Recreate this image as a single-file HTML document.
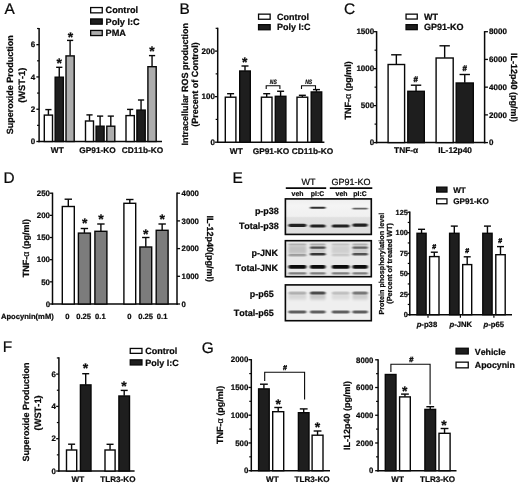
<!DOCTYPE html>
<html><head><meta charset="utf-8"><title>Figure</title>
<style>
html,body{margin:0;padding:0;background:#fff;}
body{width:520px;height:484px;overflow:hidden;}
svg{display:block;filter:blur(0.4px);font-family:"Liberation Sans",sans-serif;font-weight:bold;text-anchor:middle;fill:#080808;stroke:none;text-rendering:geometricPrecision;font-kerning:none;}
svg line, svg polyline, svg rect{stroke:#080808;}
svg .n{stroke:none;}
svg text{stroke:#0a0a0a;stroke-width:0.22px;fill:#0a0a0a;}
</style></head><body>
<svg width="520" height="484" viewBox="0 0 520 484">
<rect x="0" y="0" width="520" height="484" fill="#fff" style="stroke:none"/>
<text x="4.4" y="13.8" font-size="15.4" font-weight="normal" text-anchor="start">A</text>
<line x1="39.1" y1="27.92" x2="39.1" y2="142.25" stroke-width="1.5"/>
<line x1="39.1" y1="125.36" x2="37.05" y2="125.36" stroke-width="1.2"/>
<line x1="39.1" y1="93.08" x2="37.05" y2="93.08" stroke-width="1.2"/>
<line x1="39.1" y1="60.8" x2="37.05" y2="60.8" stroke-width="1.2"/>
<line x1="39.1" y1="28.52" x2="37.05" y2="28.52" stroke-width="1.2"/>
<line x1="39.1" y1="141.5" x2="36.35" y2="141.5" stroke-width="1.3"/>
<text x="35.12" y="144.28" font-size="8" text-anchor="end">0</text>
<line x1="39.1" y1="109.22" x2="36.35" y2="109.22" stroke-width="1.3"/>
<text x="35.12" y="112" font-size="8" text-anchor="end">2</text>
<line x1="39.1" y1="76.94" x2="36.35" y2="76.94" stroke-width="1.3"/>
<text x="35.12" y="79.72" font-size="8" text-anchor="end">4</text>
<line x1="39.1" y1="44.66" x2="36.35" y2="44.66" stroke-width="1.3"/>
<text x="35.12" y="47.44" font-size="8" text-anchor="end">6</text>
<line x1="38.35" y1="141.5" x2="162" y2="141.5" stroke-width="1.5"/>
<text x="13" y="84.8" font-size="9" transform="rotate(-90 13 84.8)">Superoxide Production</text>
<text x="24.6" y="85.3" font-size="9.3" transform="rotate(-90 24.6 85.3)">(WST-1)</text>
<line x1="48.4" y1="114.9" x2="48.4" y2="109.6" stroke-width="1.4"/>
<line x1="45.3" y1="109.6" x2="51.5" y2="109.6" stroke-width="1.4"/>
<rect x="44.3" y="115.1" width="8.2" height="26.4" fill="#ffffff" stroke-width="1.4"/>
<line x1="59.25" y1="77" x2="59.25" y2="67.3" stroke-width="1.4"/>
<line x1="56.15" y1="67.3" x2="62.35" y2="67.3" stroke-width="1.4"/>
<rect x="55.15" y="77.2" width="8.2" height="64.3" fill="#1e1e1e" stroke-width="1.4"/>
<line x1="70.1" y1="55.7" x2="70.1" y2="40.4" stroke-width="1.4"/>
<line x1="67" y1="40.4" x2="73.2" y2="40.4" stroke-width="1.4"/>
<rect x="66" y="55.9" width="8.2" height="85.6" fill="#adadad" stroke-width="1.4"/>
<line x1="89.5" y1="120.8" x2="89.5" y2="114.9" stroke-width="1.4"/>
<line x1="86.4" y1="114.9" x2="92.6" y2="114.9" stroke-width="1.4"/>
<rect x="85.5" y="121" width="8" height="20.5" fill="#ffffff" stroke-width="1.4"/>
<line x1="100.1" y1="126" x2="100.1" y2="116.1" stroke-width="1.4"/>
<line x1="97" y1="116.1" x2="103.2" y2="116.1" stroke-width="1.4"/>
<rect x="96.1" y="126.2" width="8" height="15.3" fill="#1e1e1e" stroke-width="1.4"/>
<line x1="110.8" y1="126" x2="110.8" y2="116.1" stroke-width="1.4"/>
<line x1="107.7" y1="116.1" x2="113.9" y2="116.1" stroke-width="1.4"/>
<rect x="106.8" y="126.2" width="8" height="15.3" fill="#adadad" stroke-width="1.4"/>
<line x1="130.15" y1="115.4" x2="130.15" y2="109.4" stroke-width="1.4"/>
<line x1="127.05" y1="109.4" x2="133.25" y2="109.4" stroke-width="1.4"/>
<rect x="126" y="115.6" width="8.3" height="25.9" fill="#ffffff" stroke-width="1.4"/>
<line x1="141.05" y1="109.9" x2="141.05" y2="100" stroke-width="1.4"/>
<line x1="137.95" y1="100" x2="144.15" y2="100" stroke-width="1.4"/>
<rect x="136.9" y="110.1" width="8.3" height="31.4" fill="#1e1e1e" stroke-width="1.4"/>
<line x1="152.05" y1="66.5" x2="152.05" y2="55.6" stroke-width="1.4"/>
<line x1="148.95" y1="55.6" x2="155.15" y2="55.6" stroke-width="1.4"/>
<rect x="147.9" y="66.7" width="8.3" height="74.8" fill="#adadad" stroke-width="1.4"/>
<text x="59.3" y="68.27" font-size="14">*</text>
<text x="70.4" y="42.17" font-size="14">*</text>
<text x="151.9" y="56.47" font-size="14">*</text>
<text x="57.3" y="153.1" font-size="8.3">WT</text>
<text x="97.5" y="153.1" font-size="8.3">GP91-KO</text>
<text x="142.5" y="153.1" font-size="8.3">CD11b-KO</text>
<rect x="90.65" y="7.55" width="11.6" height="5.3" fill="#ffffff" stroke-width="1.3"/>
<text x="105.5" y="13.4" font-size="9.2" text-anchor="start">Control</text>
<rect x="90.65" y="18.95" width="11.6" height="5.2" fill="#1e1e1e" stroke-width="1.3"/>
<text x="105.5" y="24.7" font-size="9.2" text-anchor="start">Poly I:C</text>
<rect x="90.65" y="30.45" width="11.6" height="5.1" fill="#adadad" stroke-width="1.3"/>
<text x="105.5" y="36.1" font-size="9.2" text-anchor="start">PMA</text>
<text x="179.5" y="13.8" font-size="15.4" font-weight="normal" text-anchor="start">B</text>
<line x1="217.7" y1="27.72" x2="217.7" y2="142.95" stroke-width="1.5"/>
<line x1="217.7" y1="119.42" x2="215.65" y2="119.42" stroke-width="1.2"/>
<line x1="217.7" y1="73.87" x2="215.65" y2="73.87" stroke-width="1.2"/>
<line x1="217.7" y1="28.32" x2="215.65" y2="28.32" stroke-width="1.2"/>
<line x1="217.7" y1="142.2" x2="214.95" y2="142.2" stroke-width="1.3"/>
<text x="214.92" y="144.98" font-size="8" text-anchor="end">0</text>
<line x1="217.7" y1="96.65" x2="214.95" y2="96.65" stroke-width="1.3"/>
<text x="214.92" y="99.43" font-size="8" text-anchor="end">100</text>
<line x1="217.7" y1="51.1" x2="214.95" y2="51.1" stroke-width="1.3"/>
<text x="214.92" y="53.88" font-size="8" text-anchor="end">200</text>
<line x1="216.95" y1="142.2" x2="324.4" y2="142.2" stroke-width="1.5"/>
<text x="187.9" y="84.2" font-size="9" transform="rotate(-90 187.9 84.2)">Intracellular ROS production</text>
<text x="198.4" y="84.5" font-size="9" transform="rotate(-90 198.4 84.5)">(Precent of Control)</text>
<line x1="230.6" y1="97" x2="230.6" y2="93.7" stroke-width="1.4"/>
<line x1="227.1" y1="93.7" x2="234.1" y2="93.7" stroke-width="1.4"/>
<rect x="225.3" y="97.2" width="10.6" height="45" fill="#ffffff" stroke-width="1.4"/>
<line x1="245" y1="70.8" x2="245" y2="66" stroke-width="1.4"/>
<line x1="241.5" y1="66" x2="248.5" y2="66" stroke-width="1.4"/>
<rect x="239.7" y="71" width="10.6" height="71.2" fill="#1e1e1e" stroke-width="1.4"/>
<line x1="266.7" y1="97" x2="266.7" y2="93.7" stroke-width="1.4"/>
<line x1="263.2" y1="93.7" x2="270.2" y2="93.7" stroke-width="1.4"/>
<rect x="261.4" y="97.2" width="10.6" height="45" fill="#ffffff" stroke-width="1.4"/>
<line x1="280.6" y1="96.1" x2="280.6" y2="91.25" stroke-width="1.4"/>
<line x1="277.1" y1="91.25" x2="284.1" y2="91.25" stroke-width="1.4"/>
<rect x="275.3" y="96.3" width="10.6" height="45.9" fill="#1e1e1e" stroke-width="1.4"/>
<line x1="302.35" y1="97" x2="302.35" y2="95.3" stroke-width="1.4"/>
<line x1="298.85" y1="95.3" x2="305.85" y2="95.3" stroke-width="1.4"/>
<rect x="297" y="97.2" width="10.7" height="45" fill="#ffffff" stroke-width="1.4"/>
<line x1="316.45" y1="91.75" x2="316.45" y2="89.6" stroke-width="1.4"/>
<line x1="312.95" y1="89.6" x2="319.95" y2="89.6" stroke-width="1.4"/>
<rect x="311.2" y="91.95" width="10.5" height="50.25" fill="#1e1e1e" stroke-width="1.4"/>
<text x="244.8" y="66.87" font-size="14">*</text>
<polyline points="266.2,89 266.2,85.8 279.9,85.8 279.9,89" fill="none" stroke-width="1.1"/>
<text transform="translate(273.25 83.5) scale(0.8 1)" font-size="6.3" font-style="italic">NS</text>
<polyline points="301.5,89 301.5,85.8 315.5,85.8 315.5,89" fill="none" stroke-width="1.1"/>
<text transform="translate(308.7 83.5) scale(0.8 1)" font-size="6.3" font-style="italic">NS</text>
<text x="236.3" y="153.7" font-size="8.3">WT</text>
<text x="270.9" y="153.7" font-size="8.3">GP91-KO</text>
<text x="312.5" y="153.5" font-size="8.3">CD11b-KO</text>
<rect x="258.55" y="14.15" width="11.6" height="5.1" fill="#ffffff" stroke-width="1.3"/>
<text x="277.1" y="19.8" font-size="9" text-anchor="start">Control</text>
<rect x="258.55" y="24.65" width="11.6" height="5.1" fill="#1e1e1e" stroke-width="1.3"/>
<text x="277.1" y="30.3" font-size="9" text-anchor="start">Poly I:C</text>
<text x="344" y="13.9" font-size="15.4" font-weight="normal" text-anchor="start">C</text>
<line x1="376.6" y1="31.1" x2="376.6" y2="143.35" stroke-width="1.5"/>
<line x1="376.6" y1="124.12" x2="374.55" y2="124.12" stroke-width="1.2"/>
<line x1="376.6" y1="87.15" x2="374.55" y2="87.15" stroke-width="1.2"/>
<line x1="376.6" y1="50.18" x2="374.55" y2="50.18" stroke-width="1.2"/>
<line x1="376.6" y1="142.6" x2="373.85" y2="142.6" stroke-width="1.3"/>
<text x="374.22" y="145.38" font-size="8" text-anchor="end">0</text>
<line x1="376.6" y1="105.63" x2="373.85" y2="105.63" stroke-width="1.3"/>
<text x="374.22" y="108.41" font-size="8" text-anchor="end">500</text>
<line x1="376.6" y1="68.67" x2="373.85" y2="68.67" stroke-width="1.3"/>
<text x="374.22" y="71.44" font-size="8" text-anchor="end">1000</text>
<line x1="376.6" y1="31.7" x2="373.85" y2="31.7" stroke-width="1.3"/>
<text x="374.22" y="34.48" font-size="8" text-anchor="end">1500</text>
<line x1="484.6" y1="31.1" x2="484.6" y2="143.35" stroke-width="1.5"/>
<line x1="484.6" y1="142.6" x2="487.95" y2="142.6" stroke-width="1.3"/>
<text x="489.08" y="145.38" font-size="8" text-anchor="start">0</text>
<line x1="484.6" y1="114.88" x2="487.95" y2="114.88" stroke-width="1.3"/>
<text x="489.08" y="117.65" font-size="8" text-anchor="start">2000</text>
<line x1="484.6" y1="87.15" x2="487.95" y2="87.15" stroke-width="1.3"/>
<text x="489.08" y="89.93" font-size="8" text-anchor="start">4000</text>
<line x1="484.6" y1="59.42" x2="487.95" y2="59.42" stroke-width="1.3"/>
<text x="489.08" y="62.2" font-size="8" text-anchor="start">6000</text>
<line x1="484.6" y1="31.7" x2="487.95" y2="31.7" stroke-width="1.3"/>
<text x="489.08" y="34.48" font-size="8" text-anchor="start">8000</text>
<line x1="375.85" y1="142.6" x2="485.35" y2="142.6" stroke-width="1.5"/>
<text x="350.6" y="90.4" font-size="9" transform="rotate(-90 350.6 90.4)">TNF-<tspan font-weight="normal">α</tspan> (pg/ml)</text>
<text x="510.7" y="87.5" font-size="9" transform="rotate(90 510.7 87.5)">IL-12p40 (pg/ml)</text>
<line x1="396.35" y1="64.3" x2="396.35" y2="54.8" stroke-width="1.4"/>
<line x1="391.15" y1="54.8" x2="401.55" y2="54.8" stroke-width="1.4"/>
<rect x="388.1" y="64.5" width="16.5" height="78.1" fill="#ffffff" stroke-width="1.4"/>
<line x1="416.05" y1="91.1" x2="416.05" y2="85.2" stroke-width="1.4"/>
<line x1="410.85" y1="85.2" x2="421.25" y2="85.2" stroke-width="1.4"/>
<rect x="407.8" y="91.3" width="16.5" height="51.3" fill="#1e1e1e" stroke-width="1.4"/>
<line x1="444.65" y1="57.8" x2="444.65" y2="45.8" stroke-width="1.4"/>
<line x1="439.45" y1="45.8" x2="449.85" y2="45.8" stroke-width="1.4"/>
<rect x="436.1" y="58" width="17.1" height="84.6" fill="#ffffff" stroke-width="1.4"/>
<line x1="464.75" y1="82.8" x2="464.75" y2="74.5" stroke-width="1.4"/>
<line x1="459.55" y1="74.5" x2="469.95" y2="74.5" stroke-width="1.4"/>
<rect x="456.2" y="83" width="17.1" height="59.6" fill="#1e1e1e" stroke-width="1.4"/>
<text x="415.8" y="82.32" font-size="8" style="stroke-width:0.4px">#</text>
<text x="464.7" y="70.72" font-size="8" style="stroke-width:0.4px">#</text>
<text x="406.1" y="153" font-size="8.3">TNF-α</text>
<text x="455.1" y="153" font-size="8.3">IL-12p40</text>
<rect x="406.05" y="14.15" width="11.2" height="4.9" fill="#ffffff" stroke-width="1.3"/>
<text x="424" y="19.6" font-size="9" text-anchor="start">WT</text>
<rect x="406.05" y="24.65" width="11.2" height="5" fill="#1e1e1e" stroke-width="1.3"/>
<text x="424" y="30.2" font-size="9" text-anchor="start">GP91-KO</text>
<text x="3.6" y="182.8" font-size="15.4" font-weight="normal" text-anchor="start">D</text>
<line x1="52.5" y1="192.6" x2="52.5" y2="304.75" stroke-width="1.5"/>
<line x1="52.5" y1="304" x2="49.75" y2="304" stroke-width="1.3"/>
<text x="50.02" y="306.74" font-size="7.9" text-anchor="end">0</text>
<line x1="52.5" y1="281.84" x2="49.75" y2="281.84" stroke-width="1.3"/>
<text x="50.02" y="284.58" font-size="7.9" text-anchor="end">50</text>
<line x1="52.5" y1="259.68" x2="49.75" y2="259.68" stroke-width="1.3"/>
<text x="50.02" y="262.42" font-size="7.9" text-anchor="end">100</text>
<line x1="52.5" y1="237.52" x2="49.75" y2="237.52" stroke-width="1.3"/>
<text x="50.02" y="240.26" font-size="7.9" text-anchor="end">150</text>
<line x1="52.5" y1="215.36" x2="49.75" y2="215.36" stroke-width="1.3"/>
<text x="50.02" y="218.1" font-size="7.9" text-anchor="end">200</text>
<line x1="52.5" y1="193.2" x2="49.75" y2="193.2" stroke-width="1.3"/>
<text x="50.02" y="195.94" font-size="7.9" text-anchor="end">250</text>
<line x1="177" y1="192.6" x2="177" y2="304.75" stroke-width="1.5"/>
<line x1="177" y1="304" x2="180.05" y2="304" stroke-width="1.3"/>
<text x="181.59" y="306.71" font-size="7.8" text-anchor="start">0</text>
<line x1="177" y1="276.3" x2="180.05" y2="276.3" stroke-width="1.3"/>
<text x="181.59" y="279.01" font-size="7.8" text-anchor="start">1000</text>
<line x1="177" y1="248.6" x2="180.05" y2="248.6" stroke-width="1.3"/>
<text x="181.59" y="251.31" font-size="7.8" text-anchor="start">2000</text>
<line x1="177" y1="220.9" x2="180.05" y2="220.9" stroke-width="1.3"/>
<text x="181.59" y="223.61" font-size="7.8" text-anchor="start">3000</text>
<line x1="177" y1="193.2" x2="180.05" y2="193.2" stroke-width="1.3"/>
<text x="181.59" y="195.91" font-size="7.8" text-anchor="start">4000</text>
<line x1="51.75" y1="304" x2="177.75" y2="304" stroke-width="1.5"/>
<text x="29" y="248.2" font-size="9" transform="rotate(-90 29 248.2)">TNF-<tspan font-weight="normal">α</tspan> (pg/ml)</text>
<text x="207.4" y="248.8" font-size="9" transform="rotate(90 207.4 248.8)">IL-12p40(pg/ml)</text>
<line x1="68.3" y1="206.3" x2="68.3" y2="199.2" stroke-width="1.4"/>
<line x1="64.6" y1="199.2" x2="72" y2="199.2" stroke-width="1.4"/>
<rect x="62.3" y="206.5" width="12" height="97.5" fill="#ffffff" stroke-width="1.4"/>
<line x1="84.4" y1="232.9" x2="84.4" y2="228.5" stroke-width="1.4"/>
<line x1="80.7" y1="228.5" x2="88.1" y2="228.5" stroke-width="1.4"/>
<rect x="78.4" y="233.1" width="12" height="70.9" fill="#7c7c7c" stroke-width="1.4"/>
<line x1="100.9" y1="231.1" x2="100.9" y2="224" stroke-width="1.4"/>
<line x1="97.2" y1="224" x2="104.6" y2="224" stroke-width="1.4"/>
<rect x="94.9" y="231.3" width="12" height="72.7" fill="#7c7c7c" stroke-width="1.4"/>
<line x1="129.8" y1="203.1" x2="129.8" y2="199.5" stroke-width="1.4"/>
<line x1="126.1" y1="199.5" x2="133.5" y2="199.5" stroke-width="1.4"/>
<rect x="123.9" y="203.3" width="11.8" height="100.7" fill="#ffffff" stroke-width="1.4"/>
<line x1="145.8" y1="246.8" x2="145.8" y2="237.5" stroke-width="1.4"/>
<line x1="142.1" y1="237.5" x2="149.5" y2="237.5" stroke-width="1.4"/>
<rect x="139.9" y="247" width="11.8" height="57" fill="#7c7c7c" stroke-width="1.4"/>
<line x1="162.15" y1="230.1" x2="162.15" y2="224" stroke-width="1.4"/>
<line x1="158.45" y1="224" x2="165.85" y2="224" stroke-width="1.4"/>
<rect x="156.2" y="230.3" width="11.9" height="73.7" fill="#7c7c7c" stroke-width="1.4"/>
<text x="84.8" y="228.37" font-size="14">*</text>
<text x="100.9" y="223.77" font-size="14">*</text>
<text x="145.8" y="238.77" font-size="14">*</text>
<text x="162.3" y="224.27" font-size="14">*</text>
<text x="1" y="319.3" font-size="7.6" text-anchor="start">Apocynin(mM)</text>
<text x="67.3" y="319.3" font-size="7.6">0</text>
<text x="83.6" y="319.3" font-size="7.6">0.25</text>
<text x="100.4" y="319.3" font-size="7.6">0.1</text>
<text x="129.3" y="319.3" font-size="7.6">0</text>
<text x="145.6" y="319.3" font-size="7.6">0.25</text>
<text x="162.1" y="319.3" font-size="7.6">0.1</text>
<text x="232.4" y="183.2" font-size="15.4" font-weight="normal" text-anchor="start">E</text>
<text x="308.5" y="185.2" font-size="9" font-weight="normal">WT</text>
<text x="351" y="185.2" font-size="9" font-weight="normal">GP91-KO</text>
<line x1="285.8" y1="188.1" x2="326.2" y2="188.1" stroke-width="1.8"/>
<line x1="329.8" y1="188.1" x2="372.3" y2="188.1" stroke-width="1.8"/>
<text x="297.5" y="196" font-size="6.9">veh</text>
<text x="317.5" y="196" font-size="6.9">pI:C</text>
<text x="341.5" y="196" font-size="6.9">veh</text>
<text x="360" y="196" font-size="6.9">pI:C</text>
<text x="278.9" y="213.7" font-size="9" text-anchor="end">p-p38</text>
<text x="278.9" y="229.4" font-size="9" text-anchor="end">Total-p38</text>
<text x="278.1" y="255.5" font-size="9" text-anchor="end">p-JNK</text>
<text x="278.1" y="270.7" font-size="9" text-anchor="end">Total-JNK</text>
<text x="273.7" y="297.1" font-size="9" text-anchor="end">p-p65</text>
<text x="273.7" y="315.6" font-size="9" text-anchor="end">Total-p65</text>
<defs><filter id="b1" x="-20%" y="-150%" width="140%" height="400%"><feGaussianBlur stdDeviation="1.1 0.7"/></filter><filter id="b2" x="-20%" y="-150%" width="140%" height="400%"><feGaussianBlur stdDeviation="1.2 1.4"/></filter><linearGradient id="g1" x1="0" y1="0" x2="0" y2="1"><stop offset="0" stop-color="#ededed"/><stop offset="0.2" stop-color="#f4f4f4"/><stop offset="0.49" stop-color="#f0f0f0"/><stop offset="0.53" stop-color="#e0e0e0"/><stop offset="1" stop-color="#dedede"/></linearGradient></defs>
<rect x="284.6" y="198.1" width="87.5" height="37.1" fill="url(#g1)" class="n"/>
<rect x="310" y="206.8" width="15.6" height="2" rx="1" fill="#000" opacity="0.8" class="n" filter="url(#b1)"/>
<rect x="352.4" y="207.7" width="15.4" height="1.8" rx="0.9" fill="#000" opacity="0.58" class="n" filter="url(#b1)"/>
<rect x="288.4" y="223.7" width="18" height="3.2" rx="1.6" fill="#000" opacity="0.85" class="n" filter="url(#b1)"/>
<rect x="310" y="224.4" width="15.6" height="3.2" rx="1.6" fill="#000" opacity="0.85" class="n" filter="url(#b1)"/>
<rect x="331.8" y="224.4" width="17.8" height="3.2" rx="1.6" fill="#000" opacity="0.85" class="n" filter="url(#b1)"/>
<rect x="352.4" y="223.5" width="15.4" height="3.2" rx="1.6" fill="#000" opacity="0.85" class="n" filter="url(#b1)"/>
<rect x="285.4" y="198.9" width="85.9" height="35.5" fill="none" stroke-width="1.6"/>
<rect x="284.6" y="239.9" width="87.5" height="37.6" fill="#e8e8e8" class="n"/>
<rect x="288.4" y="245" width="18" height="9" rx="1.6" fill="#000" opacity="0.16" class="n" filter="url(#b2)"/>
<rect x="310" y="245" width="15.6" height="9" rx="1.6" fill="#000" opacity="0.12" class="n" filter="url(#b2)"/>
<rect x="331.8" y="245" width="17.8" height="9" rx="1.6" fill="#000" opacity="0.1" class="n" filter="url(#b2)"/>
<rect x="352.4" y="245" width="15.4" height="9" rx="1.6" fill="#000" opacity="0.12" class="n" filter="url(#b2)"/>
<rect x="288.4" y="243.5" width="18" height="1.8" rx="0.9" fill="#000" opacity="0.18" class="n" filter="url(#b1)"/>
<rect x="310" y="243.5" width="15.6" height="1.8" rx="0.9" fill="#000" opacity="0.22" class="n" filter="url(#b1)"/>
<rect x="331.8" y="243.5" width="17.8" height="1.8" rx="0.9" fill="#000" opacity="0.12" class="n" filter="url(#b1)"/>
<rect x="352.4" y="243.5" width="15.4" height="1.8" rx="0.9" fill="#000" opacity="0.2" class="n" filter="url(#b1)"/>
<rect x="310" y="246.6" width="15.6" height="2.2" rx="1.1" fill="#000" opacity="0.62" class="n" filter="url(#b1)"/>
<rect x="352.4" y="246.6" width="15.4" height="2.2" rx="1.1" fill="#000" opacity="0.5" class="n" filter="url(#b1)"/>
<rect x="288.4" y="253.9" width="18" height="2.6" rx="1.3" fill="#000" opacity="0.28" class="n" filter="url(#b1)"/>
<rect x="310" y="252.9" width="15.6" height="2.6" rx="1.3" fill="#000" opacity="0.75" class="n" filter="url(#b1)"/>
<rect x="331.8" y="253.9" width="17.8" height="2.6" rx="1.3" fill="#000" opacity="0.1" class="n" filter="url(#b1)"/>
<rect x="352.4" y="252.9" width="15.4" height="2.6" rx="1.3" fill="#000" opacity="0.62" class="n" filter="url(#b1)"/>
<rect x="288.4" y="264.9" width="18" height="3.8" rx="1.6" fill="#000" opacity="0.95" class="n" filter="url(#b1)"/>
<rect x="288.4" y="272.3" width="18" height="2.2" rx="1.1" fill="#000" opacity="0.45" class="n" filter="url(#b1)"/>
<rect x="310" y="264.9" width="15.6" height="3.8" rx="1.6" fill="#000" opacity="0.95" class="n" filter="url(#b1)"/>
<rect x="310" y="272.3" width="15.6" height="2.2" rx="1.1" fill="#000" opacity="0.45" class="n" filter="url(#b1)"/>
<rect x="331.8" y="264.9" width="17.8" height="3.8" rx="1.6" fill="#000" opacity="0.95" class="n" filter="url(#b1)"/>
<rect x="331.8" y="272.3" width="17.8" height="2.2" rx="1.1" fill="#000" opacity="0.45" class="n" filter="url(#b1)"/>
<rect x="352.4" y="264.9" width="15.4" height="3.8" rx="1.6" fill="#000" opacity="0.95" class="n" filter="url(#b1)"/>
<rect x="352.4" y="272.3" width="15.4" height="2.2" rx="1.1" fill="#000" opacity="0.45" class="n" filter="url(#b1)"/>
<rect x="285.4" y="240.7" width="85.9" height="36" fill="none" stroke-width="1.6"/>
<rect x="284.6" y="284.1" width="87.5" height="37.4" fill="#efefef" class="n"/>
<rect x="288.4" y="293.5" width="18" height="6" rx="1.6" fill="#000" opacity="0.1" class="n" filter="url(#b2)"/>
<rect x="310" y="293.5" width="15.6" height="6" rx="1.6" fill="#000" opacity="0.16" class="n" filter="url(#b2)"/>
<rect x="331.8" y="293.5" width="17.8" height="6" rx="1.6" fill="#000" opacity="0.08" class="n" filter="url(#b2)"/>
<rect x="352.4" y="293.5" width="15.4" height="6" rx="1.6" fill="#000" opacity="0.14" class="n" filter="url(#b2)"/>
<rect x="288.4" y="291.5" width="18" height="3" rx="1.5" fill="#000" opacity="0.22" class="n" filter="url(#b1)"/>
<rect x="310" y="291.5" width="15.6" height="3" rx="1.5" fill="#000" opacity="0.66" class="n" filter="url(#b1)"/>
<rect x="331.8" y="291.5" width="17.8" height="3" rx="1.5" fill="#000" opacity="0.16" class="n" filter="url(#b1)"/>
<rect x="352.4" y="291.5" width="15.4" height="3" rx="1.5" fill="#000" opacity="0.46" class="n" filter="url(#b1)"/>
<rect x="288.4" y="310.6" width="18" height="2.8" rx="1.4" fill="#000" opacity="0.6" class="n" filter="url(#b1)"/>
<rect x="310" y="310.6" width="15.6" height="2.8" rx="1.4" fill="#000" opacity="0.6" class="n" filter="url(#b1)"/>
<rect x="331.8" y="310.6" width="17.8" height="2.8" rx="1.4" fill="#000" opacity="0.6" class="n" filter="url(#b1)"/>
<rect x="352.4" y="310.6" width="15.4" height="2.8" rx="1.4" fill="#000" opacity="0.6" class="n" filter="url(#b1)"/>
<rect x="285.4" y="284.9" width="85.9" height="35.8" fill="none" stroke-width="1.6"/>
<line x1="409.8" y1="211.6" x2="409.8" y2="315.45" stroke-width="1.5"/>
<line x1="409.8" y1="304.45" x2="407.75" y2="304.45" stroke-width="1.2"/>
<line x1="409.8" y1="283.95" x2="407.75" y2="283.95" stroke-width="1.2"/>
<line x1="409.8" y1="263.45" x2="407.75" y2="263.45" stroke-width="1.2"/>
<line x1="409.8" y1="242.95" x2="407.75" y2="242.95" stroke-width="1.2"/>
<line x1="409.8" y1="222.45" x2="407.75" y2="222.45" stroke-width="1.2"/>
<line x1="409.8" y1="314.7" x2="407.25" y2="314.7" stroke-width="1.3"/>
<text x="407.79" y="317.23" font-size="7.3" text-anchor="end">0</text>
<line x1="409.8" y1="294.2" x2="407.25" y2="294.2" stroke-width="1.3"/>
<text x="407.79" y="296.73" font-size="7.3" text-anchor="end">25</text>
<line x1="409.8" y1="273.7" x2="407.25" y2="273.7" stroke-width="1.3"/>
<text x="407.79" y="276.23" font-size="7.3" text-anchor="end">50</text>
<line x1="409.8" y1="253.2" x2="407.25" y2="253.2" stroke-width="1.3"/>
<text x="407.79" y="255.73" font-size="7.3" text-anchor="end">75</text>
<line x1="409.8" y1="232.7" x2="407.25" y2="232.7" stroke-width="1.3"/>
<text x="407.79" y="235.23" font-size="7.3" text-anchor="end">100</text>
<line x1="409.8" y1="212.2" x2="407.25" y2="212.2" stroke-width="1.3"/>
<text x="407.79" y="214.73" font-size="7.3" text-anchor="end">125</text>
<line x1="409.05" y1="314.7" x2="512" y2="314.7" stroke-width="1.5"/>
<line x1="428" y1="314.7" x2="428" y2="317.7" stroke-width="1.2"/>
<line x1="460.4" y1="314.7" x2="460.4" y2="317.7" stroke-width="1.2"/>
<line x1="493.9" y1="314.7" x2="493.9" y2="317.7" stroke-width="1.2"/>
<text x="384" y="263.6" font-size="7.25" transform="rotate(-90 384 263.6)">Protein phosphorylation level</text>
<text x="391.6" y="263.4" font-size="7.35" transform="rotate(-90 391.6 263.4)">(Percent of treated WT)</text>
<line x1="421.55" y1="233.1" x2="421.55" y2="229.3" stroke-width="1.4"/>
<line x1="418.05" y1="229.3" x2="425.05" y2="229.3" stroke-width="1.4"/>
<rect x="417" y="233.3" width="9.1" height="81.4" fill="#1e1e1e" stroke-width="1.4"/>
<line x1="434.3" y1="256.4" x2="434.3" y2="252.2" stroke-width="1.4"/>
<line x1="430.8" y1="252.2" x2="437.8" y2="252.2" stroke-width="1.4"/>
<rect x="429.6" y="256.6" width="9.4" height="58.1" fill="#ffffff" stroke-width="1.4"/>
<line x1="454.3" y1="233.1" x2="454.3" y2="226.1" stroke-width="1.4"/>
<line x1="450.8" y1="226.1" x2="457.8" y2="226.1" stroke-width="1.4"/>
<rect x="449.6" y="233.3" width="9.4" height="81.4" fill="#1e1e1e" stroke-width="1.4"/>
<line x1="467.2" y1="264.4" x2="467.2" y2="256.8" stroke-width="1.4"/>
<line x1="463.7" y1="256.8" x2="470.7" y2="256.8" stroke-width="1.4"/>
<rect x="462.7" y="264.6" width="9" height="50.1" fill="#ffffff" stroke-width="1.4"/>
<line x1="487.45" y1="233.1" x2="487.45" y2="226.1" stroke-width="1.4"/>
<line x1="483.95" y1="226.1" x2="490.95" y2="226.1" stroke-width="1.4"/>
<rect x="482.8" y="233.3" width="9.3" height="81.4" fill="#1e1e1e" stroke-width="1.4"/>
<line x1="500.5" y1="254.5" x2="500.5" y2="246.6" stroke-width="1.4"/>
<line x1="497" y1="246.6" x2="504" y2="246.6" stroke-width="1.4"/>
<rect x="495.8" y="254.7" width="9.4" height="60" fill="#ffffff" stroke-width="1.4"/>
<text x="434.3" y="249.38" font-size="7" style="stroke-width:0.4px">#</text>
<text x="467.2" y="253.18" font-size="7" style="stroke-width:0.4px">#</text>
<text x="500.3" y="242.88" font-size="7" style="stroke-width:0.4px">#</text>
<text x="426.9" y="326.5" font-size="7.7"><tspan font-style="italic">p</tspan>-p38</text>
<text x="460.75" y="326.5" font-size="7.7"><tspan font-style="italic">p</tspan>-JNK</text>
<text x="493.8" y="326.5" font-size="7.7"><tspan font-style="italic">p</tspan>-p65</text>
<rect x="436.65" y="187.15" width="10.3" height="4.9" fill="#1e1e1e" stroke-width="1.3"/>
<text x="453.2" y="192.6" font-size="8.1" text-anchor="start">WT</text>
<rect x="436.65" y="198.85" width="10.3" height="4.9" fill="#ffffff" stroke-width="1.3"/>
<text x="453.2" y="204.3" font-size="8.1" text-anchor="start">GP91-KO</text>
<text x="2.8" y="351.7" font-size="15.4" font-weight="normal" text-anchor="start">F</text>
<line x1="58.9" y1="357.35" x2="58.9" y2="471.75" stroke-width="1.5"/>
<line x1="58.9" y1="454.85" x2="56.85" y2="454.85" stroke-width="1.2"/>
<line x1="58.9" y1="422.55" x2="56.85" y2="422.55" stroke-width="1.2"/>
<line x1="58.9" y1="390.25" x2="56.85" y2="390.25" stroke-width="1.2"/>
<line x1="58.9" y1="357.95" x2="56.85" y2="357.95" stroke-width="1.2"/>
<line x1="58.9" y1="471" x2="56.15" y2="471" stroke-width="1.3"/>
<text x="55.92" y="473.74" font-size="7.9" text-anchor="end">0</text>
<line x1="58.9" y1="438.7" x2="56.15" y2="438.7" stroke-width="1.3"/>
<text x="55.92" y="441.44" font-size="7.9" text-anchor="end">2</text>
<line x1="58.9" y1="406.4" x2="56.15" y2="406.4" stroke-width="1.3"/>
<text x="55.92" y="409.14" font-size="7.9" text-anchor="end">4</text>
<line x1="58.9" y1="374.1" x2="56.15" y2="374.1" stroke-width="1.3"/>
<text x="55.92" y="376.84" font-size="7.9" text-anchor="end">6</text>
<line x1="58.15" y1="471" x2="134.6" y2="471" stroke-width="1.5"/>
<text x="29.4" y="412" font-size="9" transform="rotate(-90 29.4 412)">Superoxide Production</text>
<text x="41.3" y="412.9" font-size="9.3" transform="rotate(-90 41.3 412.9)">(WST-1)</text>
<line x1="71.6" y1="449.8" x2="71.6" y2="444.2" stroke-width="1.4"/>
<line x1="68.1" y1="444.2" x2="75.1" y2="444.2" stroke-width="1.4"/>
<rect x="66.5" y="450" width="10.2" height="21" fill="#ffffff" stroke-width="1.4"/>
<line x1="85.7" y1="384.7" x2="85.7" y2="373.7" stroke-width="1.4"/>
<line x1="82.2" y1="373.7" x2="89.2" y2="373.7" stroke-width="1.4"/>
<rect x="80.4" y="384.9" width="10.6" height="86.1" fill="#1e1e1e" stroke-width="1.4"/>
<line x1="110.05" y1="449.8" x2="110.05" y2="444.3" stroke-width="1.4"/>
<line x1="106.55" y1="444.3" x2="113.55" y2="444.3" stroke-width="1.4"/>
<rect x="105" y="450" width="10.1" height="21" fill="#ffffff" stroke-width="1.4"/>
<line x1="124.2" y1="395.8" x2="124.2" y2="390.4" stroke-width="1.4"/>
<line x1="120.7" y1="390.4" x2="127.7" y2="390.4" stroke-width="1.4"/>
<rect x="118.9" y="396" width="10.6" height="75" fill="#1e1e1e" stroke-width="1.4"/>
<text x="85.5" y="372.67" font-size="14">*</text>
<text x="123.9" y="391.27" font-size="14">*</text>
<text x="77.9" y="481.6" font-size="8.1">WT</text>
<text x="117.9" y="481.6" font-size="8.1">TLR3-KO</text>
<rect x="130.25" y="348.45" width="11.7" height="4.9" fill="#ffffff" stroke-width="1.3"/>
<text x="145.3" y="353.9" font-size="9" text-anchor="start">Control</text>
<rect x="130.25" y="359.85" width="11.7" height="5.1" fill="#1e1e1e" stroke-width="1.3"/>
<text x="145.3" y="365.5" font-size="9" text-anchor="start">Poly I:C</text>
<text x="201.8" y="353" font-size="15.4" font-weight="normal" text-anchor="start">G</text>
<line x1="251.3" y1="359.1" x2="251.3" y2="471.45" stroke-width="1.5"/>
<line x1="251.3" y1="456.82" x2="249.25" y2="456.82" stroke-width="1.2"/>
<line x1="251.3" y1="429.07" x2="249.25" y2="429.07" stroke-width="1.2"/>
<line x1="251.3" y1="401.32" x2="249.25" y2="401.32" stroke-width="1.2"/>
<line x1="251.3" y1="373.57" x2="249.25" y2="373.57" stroke-width="1.2"/>
<line x1="251.3" y1="470.7" x2="248.55" y2="470.7" stroke-width="1.3"/>
<text x="248.42" y="473.44" font-size="7.9" text-anchor="end">0</text>
<line x1="251.3" y1="442.95" x2="248.55" y2="442.95" stroke-width="1.3"/>
<text x="248.42" y="445.69" font-size="7.9" text-anchor="end">500</text>
<line x1="251.3" y1="415.2" x2="248.55" y2="415.2" stroke-width="1.3"/>
<text x="248.42" y="417.94" font-size="7.9" text-anchor="end">1000</text>
<line x1="251.3" y1="387.45" x2="248.55" y2="387.45" stroke-width="1.3"/>
<text x="248.42" y="390.19" font-size="7.9" text-anchor="end">1500</text>
<line x1="251.3" y1="359.7" x2="248.55" y2="359.7" stroke-width="1.3"/>
<text x="248.42" y="362.44" font-size="7.9" text-anchor="end">2000</text>
<line x1="250.55" y1="470.7" x2="330" y2="470.7" stroke-width="1.5"/>
<text x="222.8" y="414.9" font-size="9" transform="rotate(-90 222.8 414.9)">TNF-<tspan font-weight="normal">α</tspan> (pg/ml)</text>
<line x1="263.9" y1="388.7" x2="263.9" y2="384.2" stroke-width="1.4"/>
<line x1="260" y1="384.2" x2="267.8" y2="384.2" stroke-width="1.4"/>
<rect x="258.6" y="388.9" width="10.6" height="81.8" fill="#1e1e1e" stroke-width="1.4"/>
<line x1="278.2" y1="411.5" x2="278.2" y2="407.5" stroke-width="1.4"/>
<line x1="274.3" y1="407.5" x2="282.1" y2="407.5" stroke-width="1.4"/>
<rect x="272.7" y="411.7" width="11" height="59" fill="#ffffff" stroke-width="1.4"/>
<line x1="303.7" y1="412.5" x2="303.7" y2="408.9" stroke-width="1.4"/>
<line x1="299.8" y1="408.9" x2="307.6" y2="408.9" stroke-width="1.4"/>
<rect x="298.4" y="412.7" width="10.6" height="58" fill="#1e1e1e" stroke-width="1.4"/>
<line x1="317.55" y1="435" x2="317.55" y2="431" stroke-width="1.4"/>
<line x1="313.65" y1="431" x2="321.45" y2="431" stroke-width="1.4"/>
<rect x="312.1" y="435.2" width="10.9" height="35.5" fill="#ffffff" stroke-width="1.4"/>
<text x="278.2" y="408.57" font-size="14">*</text>
<text x="317.6" y="431.97" font-size="14">*</text>
<polyline points="264.7,381 264.7,372.3 304.6,372.3 304.6,399.6" fill="none" stroke-width="1.1"/>
<text x="285.1" y="369.95" font-size="7.2" style="stroke-width:0.4px">#</text>
<text x="272.3" y="481.6" font-size="8.1">WT</text>
<text x="312.1" y="481.6" font-size="8.1">TLR3-KO</text>
<line x1="378.1" y1="359.2" x2="378.1" y2="471.45" stroke-width="1.5"/>
<line x1="378.1" y1="456.84" x2="376.05" y2="456.84" stroke-width="1.2"/>
<line x1="378.1" y1="429.11" x2="376.05" y2="429.11" stroke-width="1.2"/>
<line x1="378.1" y1="401.39" x2="376.05" y2="401.39" stroke-width="1.2"/>
<line x1="378.1" y1="373.66" x2="376.05" y2="373.66" stroke-width="1.2"/>
<line x1="378.1" y1="470.7" x2="375.15" y2="470.7" stroke-width="1.3"/>
<text x="373.41" y="473.41" font-size="7.8" text-anchor="end">0</text>
<line x1="378.1" y1="442.98" x2="375.15" y2="442.98" stroke-width="1.3"/>
<text x="373.41" y="445.68" font-size="7.8" text-anchor="end">2000</text>
<line x1="378.1" y1="415.25" x2="375.15" y2="415.25" stroke-width="1.3"/>
<text x="373.41" y="417.96" font-size="7.8" text-anchor="end">4000</text>
<line x1="378.1" y1="387.52" x2="375.15" y2="387.52" stroke-width="1.3"/>
<text x="373.41" y="390.23" font-size="7.8" text-anchor="end">6000</text>
<line x1="378.1" y1="359.8" x2="375.15" y2="359.8" stroke-width="1.3"/>
<text x="373.41" y="362.51" font-size="7.8" text-anchor="end">8000</text>
<line x1="377.35" y1="470.7" x2="456.5" y2="470.7" stroke-width="1.5"/>
<text x="350.2" y="415.5" font-size="9" transform="rotate(-90 350.2 415.5)">IL-12p40 (pg/ml)</text>
<rect x="385.3" y="374.5" width="10.7" height="96.2" fill="#1e1e1e" stroke-width="1.4"/>
<line x1="404.95" y1="396.7" x2="404.95" y2="394.1" stroke-width="1.4"/>
<line x1="401.05" y1="394.1" x2="408.85" y2="394.1" stroke-width="1.4"/>
<rect x="399.6" y="396.9" width="10.7" height="73.8" fill="#ffffff" stroke-width="1.4"/>
<line x1="430.25" y1="409.2" x2="430.25" y2="406.7" stroke-width="1.4"/>
<line x1="426.35" y1="406.7" x2="434.15" y2="406.7" stroke-width="1.4"/>
<rect x="424.9" y="409.4" width="10.7" height="61.3" fill="#1e1e1e" stroke-width="1.4"/>
<line x1="444.55" y1="433.1" x2="444.55" y2="428.5" stroke-width="1.4"/>
<line x1="440.65" y1="428.5" x2="448.45" y2="428.5" stroke-width="1.4"/>
<rect x="439" y="433.3" width="11.1" height="37.4" fill="#ffffff" stroke-width="1.4"/>
<text x="404.7" y="395.77" font-size="14">*</text>
<text x="444" y="430.07" font-size="14">*</text>
<polyline points="390.9,372.1 390.9,364.2 430.1,364.2 430.1,404.6" fill="none" stroke-width="1.1"/>
<text x="411.4" y="361.68" font-size="7.6" style="stroke-width:0.4px">#</text>
<text x="397.6" y="481.6" font-size="8.1">WT</text>
<text x="437.6" y="481.6" font-size="8.1">TLR3-KO</text>
<rect x="456.05" y="348.25" width="12.2" height="5.7" fill="#1e1e1e" stroke-width="1.3"/>
<text x="474.8" y="354.5" font-size="8.8" text-anchor="start">Vehicle</text>
<rect x="456.05" y="362.15" width="12.2" height="5.7" fill="#ffffff" stroke-width="1.3"/>
<text x="474.8" y="368.4" font-size="8.8" text-anchor="start">Apocynin</text>
</svg>
</body></html>
